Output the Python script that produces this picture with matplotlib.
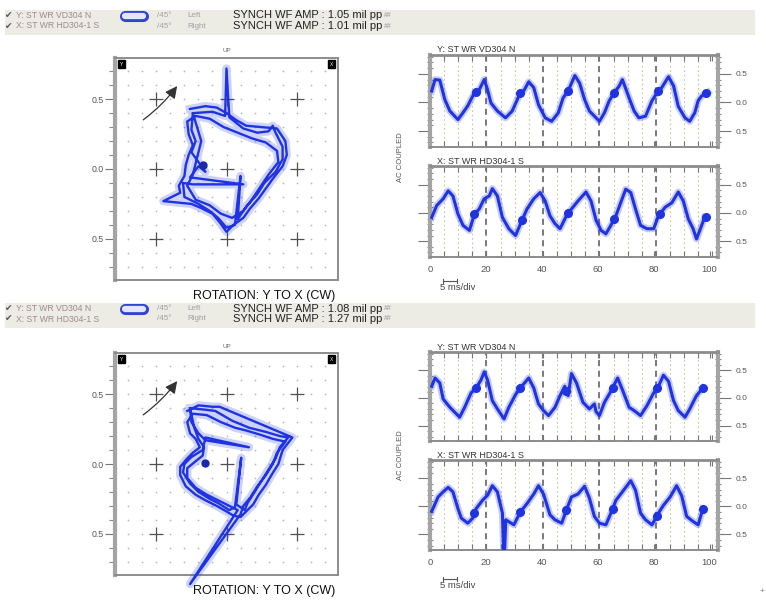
import numpy as np
import matplotlib
matplotlib.use('Agg')
import matplotlib.pyplot as plt
from matplotlib.patches import Rectangle, FancyArrowPatch
from matplotlib.lines import Line2D

plt.rcParams['font.family'] = ['Liberation Sans', 'DejaVu Sans']

# ---------------- data ----------------
# timebase waveforms: time (ms) and amplitude (mil), upper set
tr_y_t = [0.6, 1.8, 3.5, 5.3, 7.1, 10.0, 11.8, 13.5, 15.9, 17.6, 19.4, 20.6, 21.8, 24.1, 27.0,
          29.4, 32.3, 33.5, 35.3, 37.1, 38.8, 41.2, 43.5, 45.9, 47.6, 49.4, 51.8, 53.5, 55.3, 57.0,
          59.4, 60.6, 62.4, 64.1, 65.9, 67.7, 68.8, 71.2, 73.0, 74.7, 77.1, 79.4, 81.2, 82.9, 85.3,
          87.1, 88.8, 91.2, 92.9, 94.7, 95.9, 97.1, 99.4]
tr_y_v = [0.20, 0.40, 0.39, 0.05, -0.15, -0.30, -0.18, -0.06, 0.17, 0.22, 0.40, 0.22, -0.01, -0.15, -0.27,
          -0.15, 0.17, 0.20, 0.36, 0.26, -0.04, -0.27, -0.33, -0.18, 0.08, 0.20, 0.47, 0.34, 0.05, -0.15,
          -0.27, -0.33, -0.18, 0.03, 0.17, 0.29, 0.40, 0.08, -0.15, -0.27, -0.24, 0.03, 0.17, 0.26, 0.45,
          0.29, -0.07, -0.27, -0.33, -0.18, 0.03, 0.11, 0.18]
tr_x_t = [0.6, 2.4, 4.7, 6.5, 8.2, 10.0, 11.8, 14.1, 15.9, 17.6, 19.4, 21.2, 22.3, 24.1, 25.9,
          28.2, 30.6, 32.9, 34.7, 37.1, 39.4, 41.2, 42.9, 44.7, 46.5, 48.8, 50.6, 52.9, 55.8, 57.6,
          59.4, 61.2, 62.9, 64.7, 66.5, 68.2, 70.0, 71.8, 73.5, 75.3, 77.6, 80.0, 81.7, 84.1, 86.5,
          88.8, 90.6, 92.4, 94.1, 95.3, 96.5, 98.2]
tr_x_v = [-0.08, 0.13, 0.25, 0.39, 0.30, -0.02, -0.22, -0.31, -0.02, 0.07, 0.25, 0.30, 0.43, 0.30, -0.08,
          -0.28, -0.40, -0.13, 0.07, 0.25, 0.36, 0.21, -0.05, -0.19, -0.28, -0.05, 0.07, 0.21, 0.37, 0.21,
          -0.13, -0.31, -0.37, -0.22, -0.05, 0.18, 0.42, 0.36, 0.07, -0.22, -0.28, -0.28, -0.05, 0.10, 0.18,
          0.37, 0.21, -0.11, -0.28, -0.46, -0.31, -0.08]
# lower set
br_y_t = [0.6, 1.8, 3.5, 4.7, 7.1, 10.6, 12.4, 14.7, 16.5, 18.2, 19.4, 20.6, 22.3, 24.1, 26.5,
          28.2, 30.6, 32.3, 35.3, 37.1, 38.8, 40.6, 42.4, 44.7, 46.5, 48.2, 49.4, 50.6, 52.4, 54.7,
          57.0, 58.8, 59.4, 60.6, 62.4, 64.7, 67.1, 68.8, 71.2, 73.0, 75.3, 77.6, 80.0, 81.7, 83.5,
          85.3, 87.1, 88.8, 91.2, 92.9, 95.3, 97.6]
br_y_v = [0.21, 0.36, 0.27, -0.02, -0.17, -0.35, -0.17, 0.09, 0.18, 0.32, 0.47, 0.32, -0.05, -0.20, -0.38,
          -0.17, 0.06, 0.18, 0.36, 0.18, -0.11, -0.23, -0.32, -0.17, 0.04, 0.21, 0.04, 0.44, 0.27, -0.08,
          -0.20, -0.11, -0.25, -0.32, -0.08, 0.12, 0.36, 0.15, -0.17, -0.23, -0.32, -0.14, 0.09, 0.21, 0.41,
          0.30, -0.05, -0.23, -0.35, -0.20, 0.04, 0.18]
br_x_t = [0.6, 2.9, 4.7, 6.5, 8.2, 10.0, 11.2, 13.5, 15.3, 16.5, 18.8, 20.6, 22.3, 24.1, 25.9,
          26.4, 26.6, 27.1, 30.0, 32.3, 34.7, 37.1, 38.8, 40.6, 42.9, 44.7, 47.1, 48.8, 50.6, 52.9,
          55.3, 57.0, 58.8, 60.6, 62.9, 64.7, 66.5, 68.8, 71.8, 73.5, 75.3, 77.1, 79.4, 81.7, 83.5,
          85.9, 88.2, 90.0, 91.8, 94.1, 95.9, 97.6]
br_x_v = [-0.09, 0.17, 0.26, 0.34, 0.26, -0.04, -0.21, -0.30, -0.21, -0.04, 0.11, 0.20, 0.37, 0.26, -0.12,
          -0.90, -0.90, -0.24, -0.33, -0.10, 0.05, 0.22, 0.37, 0.22, -0.15, -0.24, -0.30, -0.06, 0.17, 0.22,
          0.36, 0.15, -0.18, -0.30, -0.33, -0.12, 0.11, 0.26, 0.46, 0.29, -0.12, -0.24, -0.33, -0.12, 0.02,
          0.17, 0.37, 0.19, -0.18, -0.27, -0.33, -0.04]

# once-per-turn marks (ms)
tr_y_kp = [16.5, 32.3, 49.4, 65.9, 81.7, 98.8]
tr_x_kp = [15.9, 32.9, 49.4, 65.9, 82.3, 98.8]
br_y_kp = [16.5, 32.3, 48.8, 65.3, 81.2, 97.6]
br_x_kp = [15.9, 32.3, 48.8, 65.3, 81.2, 97.6]

# orbits (x, y) in mil
top_orbit = [(-0.26, 0.43), (-0.15, 0.45), (-0.07, 0.44), (0.00, 0.40), (0.07, 0.35), (0.14, 0.31),
             (0.25, 0.30), (0.36, 0.29), (0.42, 0.20), (0.43, 0.10), (0.40, 0.02), (0.33, -0.07),
             (0.28, -0.14), (0.23, -0.21), (0.17, -0.28), (0.12, -0.35), (0.05, -0.40), (0.00, -0.45),
             (-0.05, -0.38), (-0.10, -0.32), (-0.18, -0.28), (-0.25, -0.25), (-0.45, -0.23), (-0.33, -0.17),
             (-0.34, -0.12), (-0.30, -0.05), (-0.29, 0.03), (-0.27, 0.10), (-0.24, 0.17), (-0.27, 0.25),
             (-0.28, 0.34),
             (-0.22, 0.38), (-0.12, 0.36), (-0.02, 0.30), (0.08, 0.26), (0.18, 0.22), (0.28, 0.19),
             (0.36, 0.13), (0.37, 0.05), (0.30, -0.04), (0.24, -0.13), (0.18, -0.22), (0.12, -0.30),
             (0.04, -0.35), (-0.04, -0.32), (-0.12, -0.26), (-0.22, -0.22), (-0.28, -0.12), (-0.24, -0.04),
             (-0.22, 0.04), (-0.20, 0.12), (-0.18, 0.20), (-0.21, 0.30),
             (-0.24, 0.40), (-0.10, 0.41), (-0.01, 0.38), (0.00, 0.72), (0.02, 0.37), (0.12, 0.29),
             (0.22, 0.26), (0.30, 0.27), (0.33, 0.31), (0.35, 0.26), (0.40, 0.16), (0.40, 0.07),
             (0.35, -0.02), (0.27, -0.10), (0.22, -0.18), (0.14, -0.27), (0.08, -0.36), (0.10, -0.05),
             (0.06, -0.40), (0.00, -0.42), (-0.06, -0.35), (-0.12, -0.30), (-0.20, -0.25), (-0.30, -0.20),
             (-0.31, -0.10), (-0.24, -0.11), (0.12, -0.11), (-0.26, -0.06), (-0.20, 0.02), (-0.15, -0.02),
             (-0.20, 0.05), (-0.25, 0.12), (-0.22, 0.20), (-0.25, 0.28), (-0.24, 0.40)]
bottom_orbit = [(-0.28, 0.38), (-0.20, 0.42), (-0.10, 0.41), (-0.05, 0.41), (0.47, 0.19), (0.40, 0.10),
                (0.37, 0.00), (0.32, -0.08), (0.28, -0.15), (0.23, -0.22), (0.19, -0.29), (0.14, -0.34),
                (0.10, -0.38), (0.05, -0.37), (0.00, -0.34), (-0.07, -0.30), (-0.15, -0.26), (-0.22, -0.22),
                (-0.29, -0.16), (-0.33, -0.08), (-0.33, -0.02), (-0.28, 0.04), (-0.24, 0.08), (-0.19, 0.12),
                (-0.22, 0.18), (-0.26, 0.22), (-0.28, 0.30),
                (-0.24, 0.36), (-0.14, 0.35), (-0.04, 0.30), (0.06, 0.26), (0.14, 0.24), (0.24, 0.21),
                (0.33, 0.18), (0.42, 0.16), (0.36, 0.08), (0.33, 0.00), (0.28, -0.08), (0.22, -0.16),
                (0.17, -0.24), (0.12, -0.30), (0.10, -0.36), (-0.26, -0.86), (0.08, -0.33), (0.02, -0.30),
                (-0.06, -0.26), (-0.14, -0.22), (-0.22, -0.17), (-0.28, -0.10), (-0.28, -0.03), (-0.22, 0.02),
                (-0.17, 0.06), (-0.16, 0.12), (-0.20, 0.18), (-0.23, 0.26),
                (-0.26, 0.40), (-0.16, 0.39), (-0.08, 0.38), (0.04, 0.31), (0.16, 0.26), (0.28, 0.23),
                (0.38, 0.20), (0.44, 0.19), (0.38, 0.12), (0.35, 0.04), (0.30, -0.04), (0.25, -0.12),
                (0.20, -0.20), (0.15, -0.28), (0.13, -0.33), (0.07, -0.29), (0.105, 0.045), (0.06, -0.31),
                (0.02, -0.33), (-0.06, -0.28), (-0.12, -0.25), (-0.20, -0.20), (-0.26, -0.14), (-0.31, -0.06),
                (-0.30, 0.00), (-0.25, 0.05), (-0.17, 0.10), (-0.15, 0.19), (0.16, 0.12), (-0.15, 0.17),
                (-0.20, 0.22), (-0.25, 0.30), (-0.26, 0.40)]
top_orbit_kp = (-0.17, 0.03)
bottom_orbit_kp = (-0.15, 0.01)

# header texts
probe_names = ['Y: ST WR VD304 N', 'X: ST WR HD304-1 S']
probe_sides = ['Left', 'Right']
top_amps = ['1.05', '1.01']
bottom_amps = ['1.08', '1.27']

# ---------------- drawing ----------------
W, H = 766, 600
BLUE = '#1f33e0'
fig = plt.figure(figsize=(W / 100, H / 100), dpi=100)
fig.patch.set_facecolor('white')


def rect(x0, y0, x1, y1):
    # pixel box -> figure fraction
    return [x0 / W, 1 - y1 / H, (x1 - x0) / W, (y1 - y0) / H]


def ftext(x, y, s, **kw):
    fig.text(x / W, 1 - y / H, s, **kw)


def fline(xs, ys, **kw):
    fig.add_artist(Line2D([x / W for x in xs], [1 - y / H for y in ys], **kw))


def header(y0, amps):
    fig.patches.append(Rectangle((5 / W, 1 - (y0 + 25) / H), 750 / W, 25 / H,
                                 transform=fig.transFigure, fc='#ececE4', ec='none', zorder=0))
    rows = [y0 + 5.5, y0 + 16]
    fline([125, 143], [rows[0] + 0.5] * 2, color='#3343d4', lw=8, solid_capstyle='round')
    fline([125, 143], [rows[0] + 0.5] * 2, color='#e4e6ff', lw=4.5, solid_capstyle='round')
    for r, name, side, amp in zip(rows, probe_names, probe_sides, amps):
        ftext(5, r, '\u2714', fontsize=6.5, color='#555555', va='center')
        ftext(16, r, name, fontsize=6.2, color='#a08890', va='center')
        ftext(157, r, '/45\u00b0', fontsize=5.8, color='#a0a0a0', va='center')
        ftext(187, r, side, fontsize=5.8, color='#a0a0a0', va='center')
        ftext(233, r, 'SYNCH WF AMP : %s mil pp' % amp, fontsize=8, color='#222222', va='center')
        ftext(384, r, '##', fontsize=5, color='#999999', va='center')


def orbit(box, pts, kp, label_y):
    ax = fig.add_axes(rect(*box))
    ax.set_xlim(-0.795, 0.795)
    ax.set_ylim(-0.795, 0.795)
    g = np.round(np.arange(-0.7, 0.71, 0.1), 2)
    gx, gy = np.meshgrid(g, g)
    ax.scatter(gx.ravel(), gy.ravel(), s=1.6, color='#b8b8b8', lw=0, zorder=1)
    c = [-0.5, 0.0, 0.5]
    cx, cy = np.meshgrid(c, c)
    ax.scatter(cx.ravel(), cy.ravel(), marker='+', s=110, color='#505050', lw=0.9, zorder=2)
    ox = [p[0] for p in pts]
    oy = [p[1] for p in pts]
    ax.plot(ox, oy, color=BLUE, lw=6, alpha=0.22, clip_on=False, zorder=3, solid_joinstyle='round')
    ax.plot(ox, oy, color=BLUE, lw=1.7, clip_on=False, zorder=4)
    ax.plot(*kp, 'o', color='#1a2aa8', ms=5, zorder=5)
    # rotation arrow
    ax.add_patch(FancyArrowPatch((-0.61, 0.34), (-0.34, 0.61), connectionstyle='arc3,rad=0.08',
                                 arrowstyle='-|>,head_length=0.6,head_width=0.3', mutation_scale=12,
                                 color='#333333', lw=0.9, zorder=6))
    ax.set_xticks([])
    ax.set_yticks([-0.5, 0.0, 0.5])
    ax.set_yticklabels(['0.5', '0.0', '0.5'])
    ax.set_yticks(np.round(np.arange(-0.7, 0.71, 0.1), 2), minor=True)
    ax.tick_params(axis='y', which='major', direction='out', length=7, width=0.8,
                   colors='#777777', labelsize=6.3, labelcolor='#555555', pad=1)
    ax.tick_params(axis='y', which='minor', direction='out', length=4, width=0.8, colors='#888888')
    for s in ['top', 'right', 'bottom']:
        ax.spines[s].set_color('#8c8c8c')
        ax.spines[s].set_linewidth(1.4)
    ax.spines['left'].set_color('#a4a4a4')
    ax.spines['left'].set_linewidth(3)
    for xa, lab in [(0.028, 'Y'), (0.972, 'X')]:
        ax.text(xa, 0.972, lab, transform=ax.transAxes, ha='center', va='center', color='white',
                fontsize=3.5, bbox=dict(boxstyle='square,pad=0.35', fc='black', ec='black'))
    ftext((box[0] + box[2]) / 2, box[1] - 7, 'UP', fontsize=4.5, color='#666666', ha='center', va='center')
    ftext(264, label_y, 'ROTATION: Y TO X (CW)', fontsize=9, color='#111111', ha='center', va='center')


def wave(box, t, v, kp, title, labels):
    ax = fig.add_axes(rect(*box))
    ax.set_xlim(0, 103)
    ax.set_ylim(-0.78, 0.83)
    for k in range(1, 20):
        xg = 5.05 * k
        if k % 4 == 0:
            ax.axvline(xg, color='#555555', lw=1.1, ls=(0, (4, 3)), zorder=1)
        else:
            ax.axvline(xg, color='#c9c79a', lw=0.8, ls=(0, (1.5, 2.5)), zorder=1)
    ax.plot(t, v, color=BLUE, lw=5, alpha=0.25, zorder=2, solid_joinstyle='round')
    ax.plot(t, v, color=BLUE, lw=2.2, zorder=3)
    ax.plot(kp, np.interp(kp, t, v), 'o', color=BLUE, ms=5.5, zorder=4)
    ax.yaxis.tick_right()
    ax.set_yticks([-0.5, 0.0, 0.5])
    ax.set_yticklabels(['0.5', '0.0', '0.5'])
    ax.set_yticks(np.round(np.arange(-0.7, 0.81, 0.1), 2), minor=True)
    ax.tick_params(axis='y', which='major', direction='out', length=9, width=0.8, colors='#777777',
                   labelsize=6, labelcolor='#555555', pad=4, left=True, right=True)
    ax.tick_params(axis='y', which='minor', direction='inout', length=4, width=0.8, colors='#888888',
                   left=True, right=True)
    ax.set_xticks([0, 20, 40, 60, 80, 100])
    ax.set_xticks([5.05 * k for k in range(1, 21)], minor=True)
    ax.tick_params(axis='x', which='both', direction='in', length=4, width=0.8, colors='#777777',
                   top=True, bottom=True, labelsize=6.8, labelcolor='#555555', labelbottom=labels, pad=6)
    for s in ['left', 'right']:
        ax.spines[s].set_color('#a4a4a4')
        ax.spines[s].set_linewidth(3)
    ax.spines['top'].set_color('#8c8c8c')
    ax.spines['top'].set_linewidth(2)
    ax.spines['bottom'].set_color('#8c8c8c')
    ax.spines['bottom'].set_linewidth(1.4)
    ftext(box[0] + 7, box[1] - 5, title, fontsize=6.5, color='#333333', va='center')


def timescale(y):
    fline([443, 457], [y, y], color='#555555', lw=0.8)
    fline([443, 443], [y - 2, y + 2], color='#555555', lw=0.8)
    fline([457, 457], [y - 2, y + 2], color='#555555', lw=0.8)
    ftext(440, y + 7, '5 ms/div', fontsize=6.8, color='#444444', va='center')


# upper set
header(10, top_amps)
orbit((115, 58, 338, 280), top_orbit, top_orbit_kp, 296)
wave((430, 55, 718, 147), tr_y_t, tr_y_v, tr_y_kp, probe_names[0], False)
wave((430, 166, 718, 257), tr_x_t, tr_x_v, tr_x_kp, probe_names[1], True)
ftext(400, 157, 'AC COUPLED', fontsize=5.5, color='#555555', rotation=90, ha='center', va='center')
timescale(281)

# lower set
header(303, bottom_amps)
orbit((115, 353, 338, 575), bottom_orbit, bottom_orbit_kp, 591)
wave((430, 352, 718, 441), br_y_t, br_y_v, br_y_kp, probe_names[0], False)
wave((430, 460, 718, 550), br_x_t, br_x_v, br_x_kp, probe_names[1], True)
ftext(400, 455, 'AC COUPLED', fontsize=5.5, color='#555555', rotation=90, ha='center', va='center')
timescale(579)

ftext(762, 592, '+', fontsize=6, color='#777777', ha='center', va='center')

fig.savefig('out.png', dpi=100)
